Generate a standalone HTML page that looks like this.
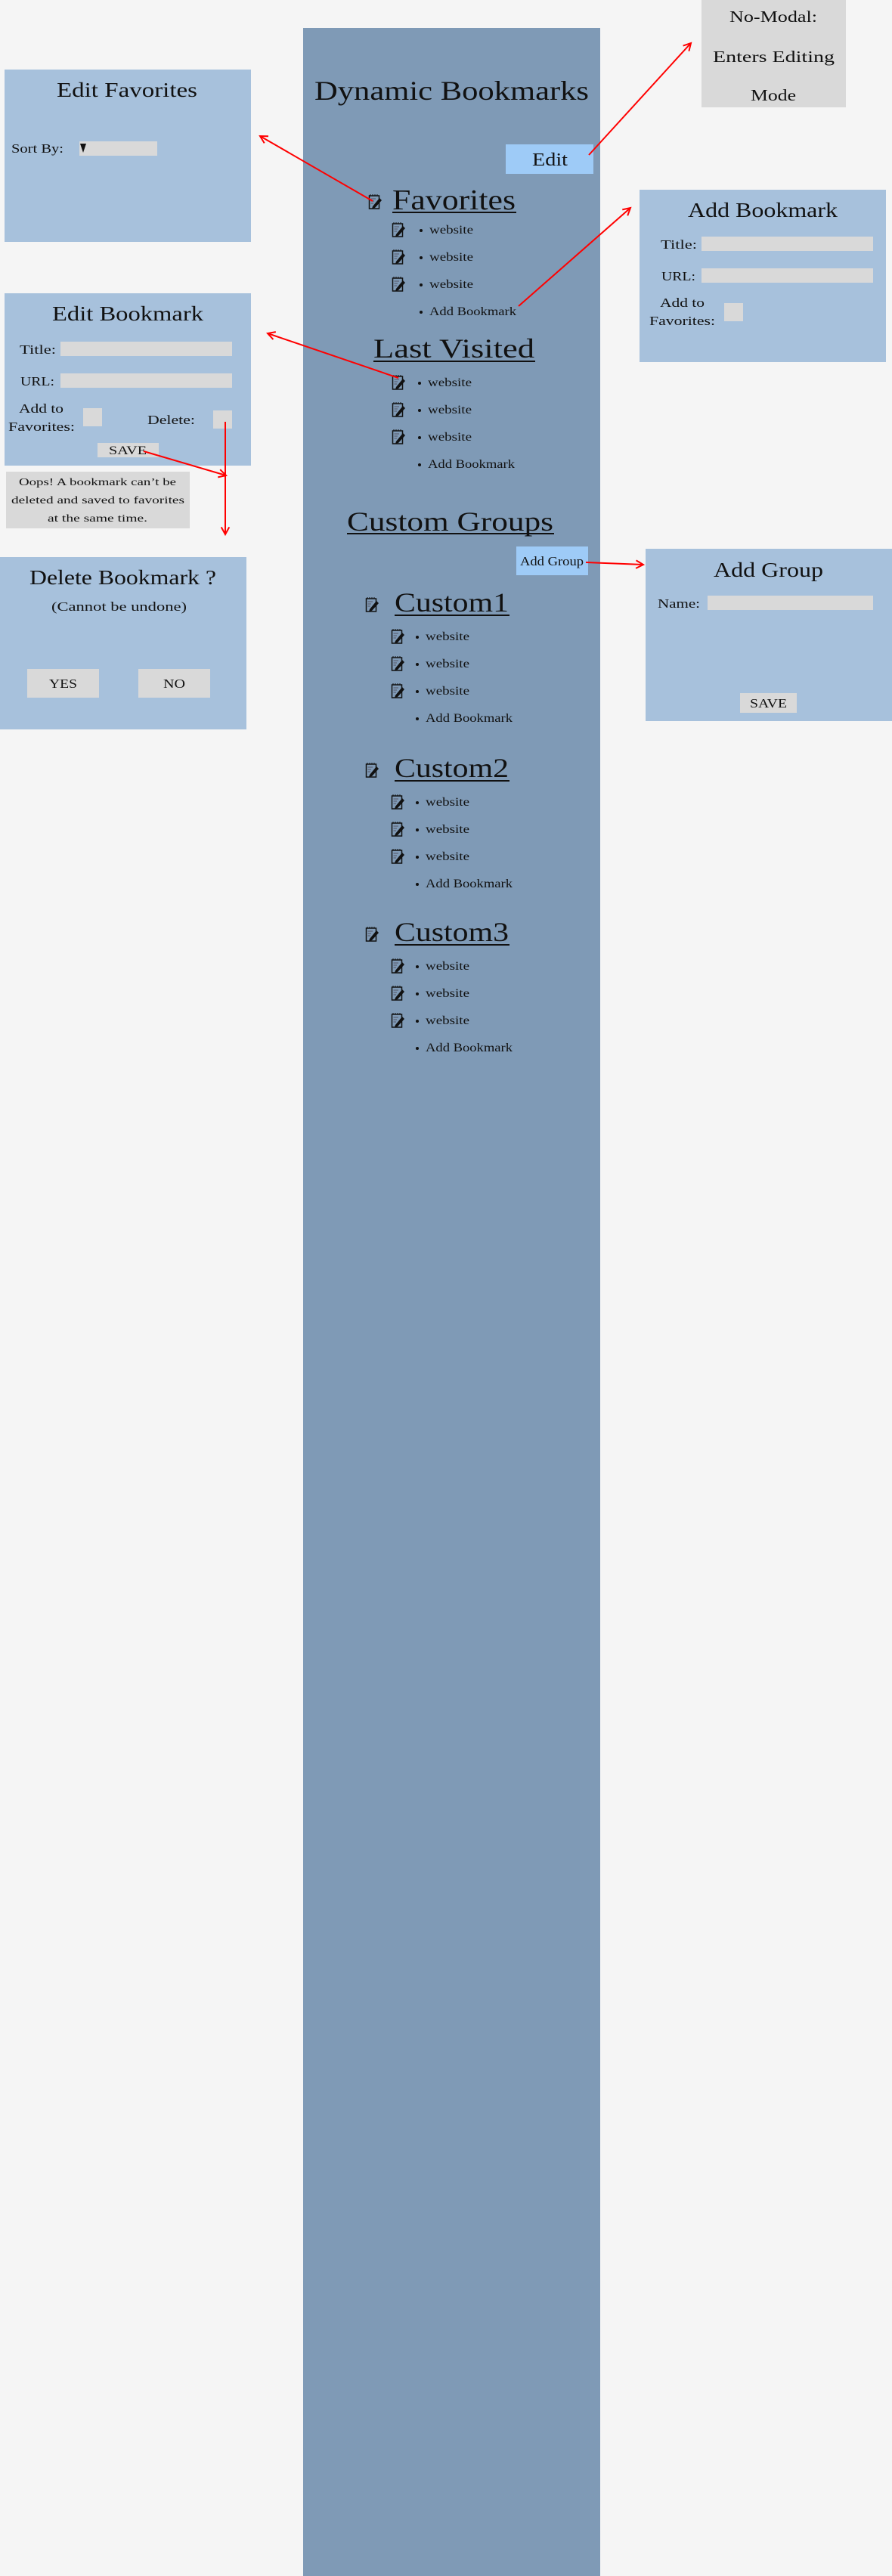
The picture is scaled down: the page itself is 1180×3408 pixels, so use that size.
<!DOCTYPE html>
<html><head><meta charset="utf-8">
<style>
html,body{margin:0;padding:0;background:#f5f5f5;}
svg{display:block;}
text{font-family:"Liberation Serif",serif;fill:#111;}
</style></head>
<body>
<svg id="root" width="1180" height="3408" viewBox="0 0 1180 3408" xmlns="http://www.w3.org/2000/svg">
<rect x="0" y="0" width="1180" height="3408" fill="#f5f5f5"/>
<defs>
<g id="ico">
<rect x="0.5" y="2" width="13" height="17" fill="none" stroke="#111" stroke-width="1.5"/>
<path d="M2 2 V0 M5 2 V0 M8 2 V0 M11 2 V0" stroke="#111" stroke-width="1"/>
<path d="M2.5 6 H9 M2.5 9 H7 M2.5 12 H6" stroke="#556" stroke-width="1"/>
<path d="M5 16 L14 5 L17 8 L8 18 L4 19 Z" fill="#111"/>
</g>
</defs>

<!-- sidebar -->
<rect x="401" y="37" width="393" height="3371" fill="#7f9ab6"/>
<text x="416" y="132" font-size="36" textLength="363" lengthAdjust="spacingAndGlyphs">Dynamic Bookmarks</text>
<rect x="669" y="191" width="116" height="39" fill="#9ecbf7"/>
<text x="704" y="219" font-size="24" textLength="47" lengthAdjust="spacingAndGlyphs">Edit</text>

<!-- favorites -->
<use href="#ico" x="488" y="257"/>
<text x="519" y="277" font-size="38" textLength="163" lengthAdjust="spacingAndGlyphs">Favorites</text>
<rect x="519" y="280" width="164" height="2" fill="#111"/>
<g id="favList"></g>

<!-- last visited -->
<text x="494" y="473" font-size="36" textLength="213" lengthAdjust="spacingAndGlyphs">Last Visited</text>
<rect x="494" y="477" width="214" height="2" fill="#111"/>
<g id="lvList"></g>

<!-- custom groups -->
<text x="459" y="702" font-size="36" textLength="273" lengthAdjust="spacingAndGlyphs">Custom Groups</text>
<rect x="459" y="705" width="274" height="2" fill="#111"/>
<rect x="683" y="723" width="95" height="38" fill="#9ecbf7"/>
<text x="688" y="748" font-size="17" textLength="84" lengthAdjust="spacingAndGlyphs">Add Group</text>
<g id="customLists"></g>

<!-- No-Modal note -->
<rect x="928" y="0" width="191" height="142" fill="#d9d9d9"/>
<text x="965" y="29" font-size="21" textLength="116" lengthAdjust="spacingAndGlyphs">No-Modal:</text>
<text x="943" y="82" font-size="21" textLength="161" lengthAdjust="spacingAndGlyphs">Enters Editing</text>
<text x="993" y="133" font-size="21" textLength="60" lengthAdjust="spacingAndGlyphs">Mode</text>

<!-- Edit Favorites modal -->
<rect x="6" y="92" width="326" height="228" fill="#a7c1dc"/>
<text x="75" y="128" font-size="27" textLength="186" lengthAdjust="spacingAndGlyphs">Edit Favorites</text>
<text x="15" y="202" font-size="17" textLength="69" lengthAdjust="spacingAndGlyphs">Sort By:</text>
<rect x="105" y="187" width="103" height="19" fill="#d9d9d9"/>
<path d="M106 190 H114 L110 202 Z" fill="#111"/>

<!-- Add Bookmark modal -->
<rect x="846" y="251" width="326" height="228" fill="#a7c1dc"/>
<text x="910" y="287" font-size="27" textLength="198" lengthAdjust="spacingAndGlyphs">Add Bookmark</text>
<text x="874" y="329" font-size="17" textLength="48" lengthAdjust="spacingAndGlyphs">Title:</text>
<rect x="928" y="313" width="227" height="19" fill="#d9d9d9"/>
<text x="875" y="371" font-size="17" textLength="45" lengthAdjust="spacingAndGlyphs">URL:</text>
<rect x="928" y="355" width="227" height="19" fill="#d9d9d9"/>
<text x="873" y="406" font-size="17" textLength="59" lengthAdjust="spacingAndGlyphs">Add to</text>
<text x="859" y="430" font-size="17" textLength="87" lengthAdjust="spacingAndGlyphs">Favorites:</text>
<rect x="958" y="401" width="25" height="24" fill="#d9d9d9"/>

<!-- Edit Bookmark modal -->
<rect x="6" y="388" width="326" height="228" fill="#a7c1dc"/>
<text x="69" y="424" font-size="27" textLength="200" lengthAdjust="spacingAndGlyphs">Edit Bookmark</text>
<text x="26" y="468" font-size="17" textLength="48" lengthAdjust="spacingAndGlyphs">Title:</text>
<rect x="80" y="452" width="227" height="19" fill="#d9d9d9"/>
<text x="27" y="510" font-size="17" textLength="45" lengthAdjust="spacingAndGlyphs">URL:</text>
<rect x="80" y="494" width="227" height="19" fill="#d9d9d9"/>
<text x="25" y="546" font-size="17" textLength="59" lengthAdjust="spacingAndGlyphs">Add to</text>
<text x="11" y="570" font-size="17" textLength="88" lengthAdjust="spacingAndGlyphs">Favorites:</text>
<rect x="110" y="540" width="25" height="24" fill="#d9d9d9"/>
<text x="195" y="561" font-size="17" textLength="63" lengthAdjust="spacingAndGlyphs">Delete:</text>
<rect x="282" y="543" width="25" height="24" fill="#d9d9d9"/>
<rect x="129" y="586" width="81" height="19" fill="#d9d9d9"/>
<text x="144" y="601" font-size="16" textLength="50" lengthAdjust="spacingAndGlyphs">SAVE</text>

<!-- Oops note -->
<rect x="8" y="624" width="243" height="75" fill="#d9d9d9"/>
<text x="25" y="642" font-size="14" textLength="208" lengthAdjust="spacingAndGlyphs">Oops! A bookmark can’t be</text>
<text x="15" y="666" font-size="14" textLength="229" lengthAdjust="spacingAndGlyphs">deleted and saved to favorites</text>
<text x="63" y="690" font-size="14" textLength="132" lengthAdjust="spacingAndGlyphs">at the same time.</text>

<!-- Delete Bookmark modal -->
<rect x="0" y="737" width="326" height="228" fill="#a7c1dc"/>
<text x="39" y="773" font-size="27" textLength="247" lengthAdjust="spacingAndGlyphs">Delete Bookmark ?</text>
<text x="68" y="808" font-size="17" textLength="179" lengthAdjust="spacingAndGlyphs">(Cannot be undone)</text>
<rect x="36" y="885" width="95" height="38" fill="#d9d9d9"/>
<text x="65" y="910" font-size="17" textLength="37" lengthAdjust="spacingAndGlyphs">YES</text>
<rect x="183" y="885" width="95" height="38" fill="#d9d9d9"/>
<text x="216" y="910" font-size="17" textLength="29" lengthAdjust="spacingAndGlyphs">NO</text>

<!-- Add Group modal -->
<rect x="854" y="726" width="326" height="228" fill="#a7c1dc"/>
<text x="944" y="763" font-size="27" textLength="145" lengthAdjust="spacingAndGlyphs">Add Group</text>
<text x="870" y="804" font-size="17" textLength="56" lengthAdjust="spacingAndGlyphs">Name:</text>
<rect x="936" y="788" width="219" height="19" fill="#d9d9d9"/>
<rect x="979" y="917" width="75" height="26" fill="#d9d9d9"/>
<text x="992" y="936" font-size="17" textLength="49" lengthAdjust="spacingAndGlyphs">SAVE</text>

<g id="arrows"></g>
</svg>
<script>
const NS = 'http://www.w3.org/2000/svg';
const root = document.getElementById('root');
function mk(tag, attrs, parent){
  const e = document.createElementNS(NS, tag);
  for (const k in attrs) e.setAttribute(k, attrs[k]);
  parent.appendChild(e);
  return e;
}
function list(parent, rows, iconX, bulletX, textX, nameP){
  rows.forEach(function(y, i){
    const last = i === rows.length - 1;
    if (!last){
      const u = mk('use', {href:'#ico', x:iconX, y:y-10}, parent);
      
      
    }
    const b = mk('circle', {cx:bulletX, cy:y+1, r:2, fill:'#111'}, parent);
    
    
    const t = mk('text', {x:textX, y:y+5, 'font-size':16, textLength: last ? 115 : 58, lengthAdjust:'spacingAndGlyphs'}, parent);
    t.textContent = last ? 'Add Bookmark' : 'website';
    
    
  });
}
list(document.getElementById('favList'), [304,340,376,412], 519, 557, 568, 'favorites');
list(document.getElementById('lvList'), [506,542,578,614], 519, 555, 566, 'last-visited');
const cg = document.getElementById('customLists');
[809,1028,1245].forEach(function(base, gi){
  const ic = mk('use', {href:'#ico', x:484, y:base-19}, cg);
  
  
  const h = mk('text', {x:522, y:base, 'font-size':36, textLength:151, lengthAdjust:'spacingAndGlyphs'}, cg);
  h.textContent = 'Custom' + (gi+1);
  
  
  const ul = mk('rect', {x:522, y:base+4, width:152, height:2, fill:'#111'}, cg);
  
  
  list(cg, [base+33, base+69, base+105, base+141], 518, 552, 563, 'custom-group');
});
const ar = document.getElementById('arrows');
function arrow(x1,y1,x2,y2){
  const l = mk('line', {x1:x1,y1:y1,x2:x2,y2:y2,stroke:'#ff0000','stroke-width':2}, ar);
  
  
  const a = Math.atan2(y2-y1, x2-x1), s = 11;
  const p = [x2 - s*Math.cos(a-0.5), y2 - s*Math.sin(a-0.5), x2, y2, x2 - s*Math.cos(a+0.5), y2 - s*Math.sin(a+0.5)];
  const h = mk('polyline', {points:p.join(' '), fill:'none', stroke:'#ff0000', 'stroke-width':2}, ar);
  
  
}
arrow(493,266,344,180);
arrow(779,205,914,57);
arrow(686,405,834,275);
arrow(527,500,354,441);
arrow(190,597,299,629);
arrow(298,558,298,707);
arrow(775,744,851,747);
</script>
</body></html>
